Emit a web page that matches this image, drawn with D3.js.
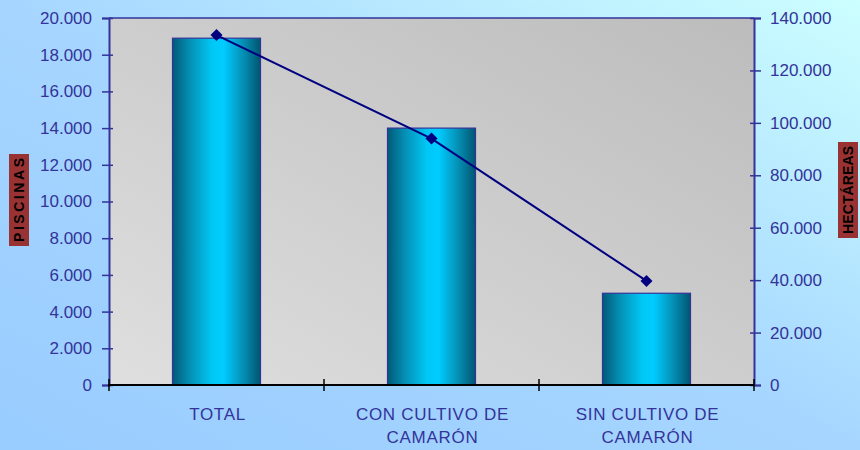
<!DOCTYPE html>
<html><head><meta charset="utf-8">
<script src="https://cdn.jsdelivr.net/npm/d3@7"></script>
<style>body{margin:0;}svg{display:block;font-family:"Liberation Sans",Arial,sans-serif;}</style>
</head><body>
<svg id="c" width="860" height="450"></svg>
<script>
const categories = [["TOTAL"], ["CON CULTIVO DE", "CAMARÓN"], ["SIN CULTIVO DE", "CAMARÓN"]];
const piscinas = [18900, 14000, 5000];
const hectareas = [133500, 94000, 39700];
const leftTicks = [0, 2000, 4000, 6000, 8000, 10000, 12000, 14000, 16000, 18000, 20000];
const rightTicks = [0, 20000, 40000, 60000, 80000, 100000, 120000, 140000];
const leftTitle = "PISCINAS";
const rightTitle = "HECTÁREAS";

const svg = d3.select("#c");
const W = 860, H = 450;
const m = {l: 109, r: 754, t: 18, b: 385};
const axisColor = "#333399";
const fmt = v => d3.format(",")(v).replace(/,/g, ".");

const defs = svg.append("defs");
const bg = defs.append("linearGradient").attr("id","bg").attr("x1","0").attr("y1","1").attr("x2","1").attr("y2","0");
bg.append("stop").attr("offset","0").attr("stop-color","#99ccff");
bg.append("stop").attr("offset","0.5").attr("stop-color","#a6d6ff");
bg.append("stop").attr("offset","1").attr("stop-color","#ccffff");
const pg = defs.append("linearGradient").attr("id","pg").attr("x1","0").attr("y1","1").attr("x2","1").attr("y2","0");
pg.append("stop").attr("offset","0").attr("stop-color","#dfdfdf");
pg.append("stop").attr("offset","1").attr("stop-color","#bcbcbc");
const bgBar = defs.append("linearGradient").attr("id","bar").attr("x1","0").attr("y1","0").attr("x2","1").attr("y2","0");
[[0,"#005a78"],[0.2,"#0590b5"],[0.45,"#00c8f5"],[0.58,"#00ccff"],[0.8,"#0590b5"],[1,"#005570"]].forEach(([o,c])=>bgBar.append("stop").attr("offset",o).attr("stop-color",c));

svg.append("rect").attr("width",W).attr("height",H).attr("fill","url(#bg)");
svg.append("rect").attr("x",m.l).attr("y",m.t).attr("width",m.r-m.l).attr("height",m.b-m.t).attr("fill","url(#pg)");

const x = d3.scaleBand().domain(d3.range(categories.length)).range([m.l, m.r]).paddingInner(0).paddingOuter(0);
const yL = d3.scaleLinear().domain([0, 20000]).range([m.b, m.t]);
const yR = d3.scaleLinear().domain([0, 140000]).range([m.b, m.t]);
const bw = 88;

svg.append("g").selectAll("rect").data(piscinas).join("rect")
  .attr("x", (d,i)=>x(i)+x.bandwidth()/2-bw/2)
  .attr("y", d=>yL(d)).attr("width", bw).attr("height", d=>m.b-yL(d))
  .attr("fill","url(#bar)").attr("stroke","#333399").attr("stroke-width",1.2);

// top border
svg.append("line").attr("x1",m.l).attr("x2",m.r).attr("y1",m.t).attr("y2",m.t).attr("stroke",axisColor).attr("stroke-width",1.5);

// left axis
const gL = svg.append("g").attr("transform",`translate(${m.l},0)`)
  .call(d3.axisLeft(yL).tickValues(leftTicks).tickFormat(fmt).tickSize(7).tickPadding(10));
gL.selectAll("path.domain").attr("stroke",axisColor).attr("stroke-width",2);
gL.selectAll(".tick line").attr("stroke",axisColor).attr("stroke-width",1.5).attr("x2",-7).attr("x1",4);
gL.selectAll("text").attr("fill",axisColor).attr("font-size",17).attr("font-family","Liberation Sans, Arial, sans-serif");

// right axis
const gR = svg.append("g").attr("transform",`translate(${m.r},0)`)
  .call(d3.axisRight(yR).tickValues(rightTicks).tickFormat(fmt).tickSize(7).tickPadding(9));
gR.selectAll("path.domain").attr("stroke",axisColor).attr("stroke-width",2);
gR.selectAll(".tick line").attr("stroke",axisColor).attr("stroke-width",1.5).attr("x1",-4).attr("x2",7);
gR.selectAll("text").attr("fill",axisColor).attr("font-size",17).attr("font-family","Liberation Sans, Arial, sans-serif");

// bottom axis
svg.append("line").attr("x1",m.l-1).attr("x2",m.r).attr("y1",m.b).attr("y2",m.b).attr("stroke","#000").attr("stroke-width",2);
const bTicks = d3.range(categories.length+1).map(i => i < categories.length ? x(i) : m.r);
svg.append("g").selectAll("line").data(bTicks).join("line")
  .attr("x1",d=>d).attr("x2",d=>d).attr("y1",m.b-6).attr("y2",m.b+6).attr("stroke","#000").attr("stroke-width",1.5);

const cl = svg.append("g").selectAll("text").data(categories).join("text")
  .attr("x",(d,i)=>x(i)+x.bandwidth()/2+1).attr("y",420)
  .attr("text-anchor","middle").attr("fill",axisColor).attr("font-size",17).attr("letter-spacing",0.7);
cl.selectAll("tspan").data(d=>d).join("tspan")
  .attr("x",function(){return d3.select(this.parentNode).attr("x");})
  .attr("dy",(d,i)=>i===0?0:23).text(d=>d);

// line series
const line = d3.line().x((d,i)=>x(i)+x.bandwidth()/2).y(d=>yR(d));
svg.append("path").datum(hectareas).attr("d",line).attr("fill","none").attr("stroke","#000080").attr("stroke-width",2);
svg.append("g").selectAll("path").data(hectareas).join("path")
  .attr("d", d3.symbol(d3.symbolSquare, 72)()).attr("transform",(d,i)=>`translate(${x(i)+x.bandwidth()/2},${yR(d)}) rotate(45)`)
  .attr("fill","#000080");

// axis titles
function title(cx, cy, w, h, txt){
  const g = svg.append("g").attr("transform",`translate(${cx},${cy}) rotate(-90)`);
  g.append("rect").attr("x",-h/2).attr("y",-w/2).attr("width",h).attr("height",w).attr("fill","#993333");
  g.append("text").attr("x",0).attr("y",5).attr("text-anchor","middle").attr("font-size",14).attr("font-weight","bold")
   .attr("textLength",h-8).attr("lengthAdjust","spacing").attr("fill","#000").text(txt);
}
title(19, 200, 20, 92, leftTitle);
title(848, 190, 20, 96, rightTitle);
</script>
</body></html>
